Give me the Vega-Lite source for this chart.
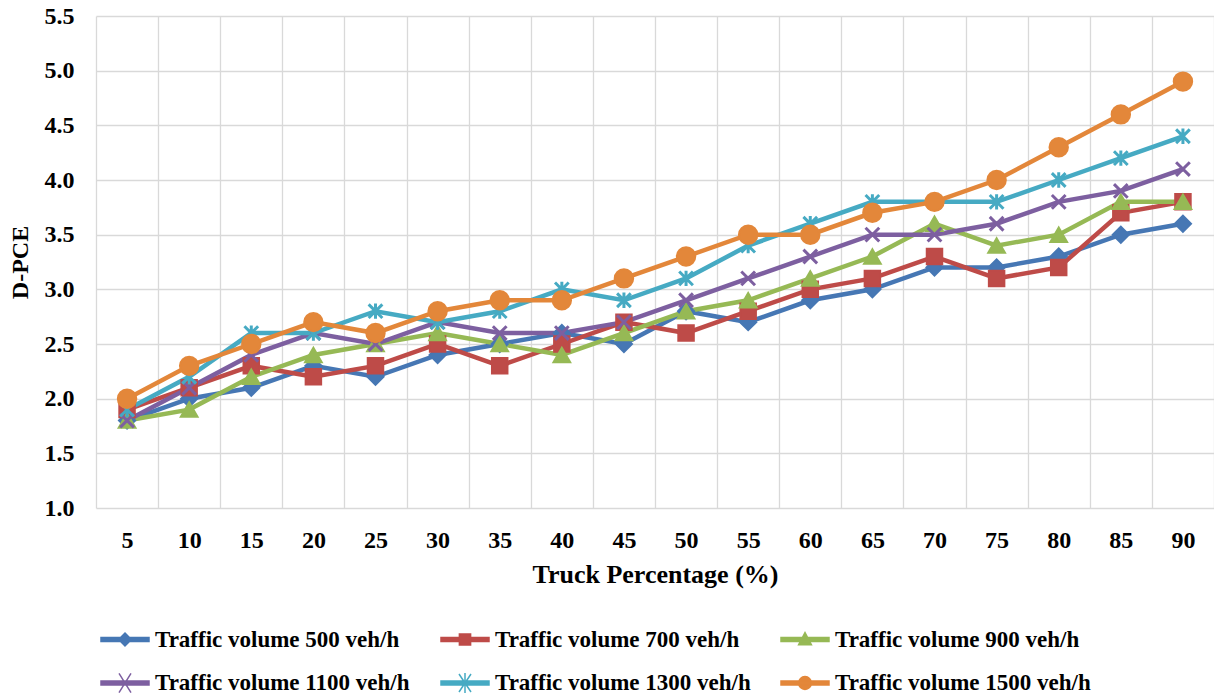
{
  "$schema": "https://vega.github.io/schema/vega-lite/v6.json",
  "width": 1118,
  "height": 492,
  "autosize": {"type": "none"},
  "padding": {"left": 96, "top": 16, "right": 0, "bottom": 190},
  "background": "white",
  "config": {"view": {"stroke": null}, "font": "Liberation Serif"},
  "data": {
    "values": [
      {"pct": 5, "Traffic volume 500 veh/h": 1.8, "Traffic volume 700 veh/h": 1.9, "Traffic volume 900 veh/h": 1.8, "Traffic volume 1100 veh/h": 1.8, "Traffic volume 1300 veh/h": 1.9, "Traffic volume 1500 veh/h": 2.0},
      {"pct": 10, "Traffic volume 500 veh/h": 2.0, "Traffic volume 700 veh/h": 2.1, "Traffic volume 900 veh/h": 1.9, "Traffic volume 1100 veh/h": 2.1, "Traffic volume 1300 veh/h": 2.2, "Traffic volume 1500 veh/h": 2.3},
      {"pct": 15, "Traffic volume 500 veh/h": 2.1, "Traffic volume 700 veh/h": 2.3, "Traffic volume 900 veh/h": 2.2, "Traffic volume 1100 veh/h": 2.4, "Traffic volume 1300 veh/h": 2.6, "Traffic volume 1500 veh/h": 2.5},
      {"pct": 20, "Traffic volume 500 veh/h": 2.3, "Traffic volume 700 veh/h": 2.2, "Traffic volume 900 veh/h": 2.4, "Traffic volume 1100 veh/h": 2.6, "Traffic volume 1300 veh/h": 2.6, "Traffic volume 1500 veh/h": 2.7},
      {"pct": 25, "Traffic volume 500 veh/h": 2.2, "Traffic volume 700 veh/h": 2.3, "Traffic volume 900 veh/h": 2.5, "Traffic volume 1100 veh/h": 2.5, "Traffic volume 1300 veh/h": 2.8, "Traffic volume 1500 veh/h": 2.6},
      {"pct": 30, "Traffic volume 500 veh/h": 2.4, "Traffic volume 700 veh/h": 2.5, "Traffic volume 900 veh/h": 2.6, "Traffic volume 1100 veh/h": 2.7, "Traffic volume 1300 veh/h": 2.7, "Traffic volume 1500 veh/h": 2.8},
      {"pct": 35, "Traffic volume 500 veh/h": 2.5, "Traffic volume 700 veh/h": 2.3, "Traffic volume 900 veh/h": 2.5, "Traffic volume 1100 veh/h": 2.6, "Traffic volume 1300 veh/h": 2.8, "Traffic volume 1500 veh/h": 2.9},
      {"pct": 40, "Traffic volume 500 veh/h": 2.6, "Traffic volume 700 veh/h": 2.5, "Traffic volume 900 veh/h": 2.4, "Traffic volume 1100 veh/h": 2.6, "Traffic volume 1300 veh/h": 3.0, "Traffic volume 1500 veh/h": 2.9},
      {"pct": 45, "Traffic volume 500 veh/h": 2.5, "Traffic volume 700 veh/h": 2.7, "Traffic volume 900 veh/h": 2.6, "Traffic volume 1100 veh/h": 2.7, "Traffic volume 1300 veh/h": 2.9, "Traffic volume 1500 veh/h": 3.1},
      {"pct": 50, "Traffic volume 500 veh/h": 2.8, "Traffic volume 700 veh/h": 2.6, "Traffic volume 900 veh/h": 2.8, "Traffic volume 1100 veh/h": 2.9, "Traffic volume 1300 veh/h": 3.1, "Traffic volume 1500 veh/h": 3.3},
      {"pct": 55, "Traffic volume 500 veh/h": 2.7, "Traffic volume 700 veh/h": 2.8, "Traffic volume 900 veh/h": 2.9, "Traffic volume 1100 veh/h": 3.1, "Traffic volume 1300 veh/h": 3.4, "Traffic volume 1500 veh/h": 3.5},
      {"pct": 60, "Traffic volume 500 veh/h": 2.9, "Traffic volume 700 veh/h": 3.0, "Traffic volume 900 veh/h": 3.1, "Traffic volume 1100 veh/h": 3.3, "Traffic volume 1300 veh/h": 3.6, "Traffic volume 1500 veh/h": 3.5},
      {"pct": 65, "Traffic volume 500 veh/h": 3.0, "Traffic volume 700 veh/h": 3.1, "Traffic volume 900 veh/h": 3.3, "Traffic volume 1100 veh/h": 3.5, "Traffic volume 1300 veh/h": 3.8, "Traffic volume 1500 veh/h": 3.7},
      {"pct": 70, "Traffic volume 500 veh/h": 3.2, "Traffic volume 700 veh/h": 3.3, "Traffic volume 900 veh/h": 3.6, "Traffic volume 1100 veh/h": 3.5, "Traffic volume 1300 veh/h": 3.8, "Traffic volume 1500 veh/h": 3.8},
      {"pct": 75, "Traffic volume 500 veh/h": 3.2, "Traffic volume 700 veh/h": 3.1, "Traffic volume 900 veh/h": 3.4, "Traffic volume 1100 veh/h": 3.6, "Traffic volume 1300 veh/h": 3.8, "Traffic volume 1500 veh/h": 4.0},
      {"pct": 80, "Traffic volume 500 veh/h": 3.3, "Traffic volume 700 veh/h": 3.2, "Traffic volume 900 veh/h": 3.5, "Traffic volume 1100 veh/h": 3.8, "Traffic volume 1300 veh/h": 4.0, "Traffic volume 1500 veh/h": 4.3},
      {"pct": 85, "Traffic volume 500 veh/h": 3.5, "Traffic volume 700 veh/h": 3.7, "Traffic volume 900 veh/h": 3.8, "Traffic volume 1100 veh/h": 3.9, "Traffic volume 1300 veh/h": 4.2, "Traffic volume 1500 veh/h": 4.6},
      {"pct": 90, "Traffic volume 500 veh/h": 3.6, "Traffic volume 700 veh/h": 3.8, "Traffic volume 900 veh/h": 3.8, "Traffic volume 1100 veh/h": 4.1, "Traffic volume 1300 veh/h": 4.4, "Traffic volume 1500 veh/h": 4.9}
    ]
  },
  "transform": [
    {"fold": ["Traffic volume 500 veh/h", "Traffic volume 700 veh/h", "Traffic volume 900 veh/h", "Traffic volume 1100 veh/h", "Traffic volume 1300 veh/h", "Traffic volume 1500 veh/h"], "as": ["series", "dpce"]}
  ],
  "encoding": {
    "x": {
      "field": "pct", "type": "ordinal", "bandPosition": 0.5,
      "scale": {"type": "band", "paddingInner": 0, "paddingOuter": 0},
      "axis": {
        "title": "Truck Percentage (%)", "labelAngle": 0, "labelFont": "Liberation Serif", "labelFontSize": 24, "labelFontWeight": "bold", "labelColor": "black", "labelPadding": 20,
        "ticks": false, "tickSize": 0, "domain": false, "grid": true, "gridColor": "#D9D9D9", "gridWidth": 1.3, "tickBand": "extent",
        "titleFont": "Liberation Serif", "titleFontSize": 26, "titleFontWeight": "bold", "titleColor": "black", "titlePadding": 9
      }
    },
    "y": {
      "field": "dpce", "type": "quantitative",
      "scale": {"domain": [1, 5.5], "nice": false, "zero": false},
      "axis": {
        "title": "D-PCE", "values": [1, 1.5, 2, 2.5, 3, 3.5, 4, 4.5, 5, 5.5], "format": ".1f",
        "labelFont": "Liberation Serif", "labelFontSize": 24, "labelFontWeight": "bold", "labelColor": "black", "labelPadding": 22,
        "ticks": false, "tickSize": 0, "domain": false, "grid": true, "gridColor": "#D9D9D9", "gridWidth": 1.3,
        "titleFont": "Liberation Serif", "titleFontSize": 24, "titleFontWeight": "bold", "titleColor": "black", "titlePadding": 12
      }
    },
    "color": {
      "field": "series", "type": "nominal",
      "scale": {
        "domain": ["Traffic volume 500 veh/h", "Traffic volume 700 veh/h", "Traffic volume 900 veh/h", "Traffic volume 1100 veh/h", "Traffic volume 1300 veh/h", "Traffic volume 1500 veh/h"],
        "range": ["#4677B4", "#BE4B48", "#96B955", "#7D5FA0", "#46AAC3", "#E3873A"]
      },
      "legend": {
        "orient": "none", "legendX": 8, "legendY": 602, "direction": "horizontal", "columns": 3, "title": null,
        "symbolSize": 1600, "symbolType": "stroke", "labelFont": "Liberation Serif", "labelFontWeight": "bold", "labelFontSize": 23, "labelColor": "black",
        "labelOffset": 9, "columnPadding": 27, "rowPadding": 10, "gridAlign": "all", "labelLimit": 400, "padding": 0,
        "encode": {
          "symbols": {
            "update": {
              "shape": {"signal": "['M-1.2,-0.1L1.2,-0.1L1.2,0.1L-1.2,0.1ZM0,-0.32L0.32,0L0,0.32L-0.32,0Z','M-1.2,-0.1L1.2,-0.1L1.2,0.1L-1.2,0.1ZM-0.28,-0.28L0.28,-0.28L0.28,0.28L-0.28,0.28Z','M-1.2,-0.1L1.2,-0.1L1.2,0.1L-1.2,0.1ZM0,-0.34L0.32,0.26L-0.32,0.26Z','M-1.2,-0.1L1.2,-0.1L1.2,0.1L-1.2,0.1ZM-0.3,-0.48L0.3,0.48M-0.3,0.48L0.3,-0.48','M-1.2,-0.1L1.2,-0.1L1.2,0.1L-1.2,0.1ZM-0.3,-0.45L0.3,0.45M-0.3,0.45L0.3,-0.45M0,-0.5L0,0.5','M-1.2,-0.1L1.2,-0.1L1.2,0.1L-1.2,0.1ZM-0.32,0A0.32,0.32,0,1,1,0.32,0A0.32,0.32,0,1,1,-0.32,0Z'][indexof(['Traffic volume 500 veh/h','Traffic volume 700 veh/h','Traffic volume 900 veh/h','Traffic volume 1100 veh/h','Traffic volume 1300 veh/h','Traffic volume 1500 veh/h'], datum.value)]"},
              "fill": {"scale": "color", "field": "value"},
              "stroke": {"scale": "color", "field": "value"},
              "strokeWidth": {"value": 1.5},
              "opacity": {"value": 1},
              "fillOpacity": {"value": 1},
              "strokeOpacity": {"value": 1}
            }
          }
        }
      }
    }
  },
  "layer": [
    {"mark": {"type": "line", "strokeWidth": 4.5}, "encoding": {}},
    {
      "transform": [{"filter": {"field": "series", "equal": "Traffic volume 500 veh/h"}}],
      "mark": {"type": "point", "shape": "diamond", "filled": true, "size": 260, "stroke": "#4677B4", "strokeWidth": 2, "opacity": 1},
      "encoding": {}
    },
    {
      "transform": [{"filter": {"field": "series", "equal": "Traffic volume 700 veh/h"}}],
      "mark": {"type": "point", "shape": "square", "filled": true, "size": 240, "stroke": "#BE4B48", "strokeWidth": 2, "opacity": 1},
      "encoding": {}
    },
    {
      "transform": [{"filter": {"field": "series", "equal": "Traffic volume 900 veh/h"}}],
      "mark": {"type": "point", "shape": "triangle-up", "filled": true, "size": 280, "stroke": "#96B955", "strokeWidth": 2, "opacity": 1},
      "encoding": {}
    },
    {
      "transform": [{"filter": {"field": "series", "equal": "Traffic volume 1100 veh/h"}}],
      "mark": {"type": "point", "shape": "M-0.85,-0.85L0.85,0.85M-0.85,0.85L0.85,-0.85", "filled": false, "size": 260, "strokeWidth": 3, "opacity": 1},
      "encoding": {}
    },
    {
      "transform": [{"filter": {"field": "series", "equal": "Traffic volume 1300 veh/h"}}],
      "mark": {"type": "point", "shape": "M-0.85,-0.85L0.85,0.85M-0.85,0.85L0.85,-0.85M0,-0.95L0,0.95", "filled": false, "size": 260, "strokeWidth": 3, "opacity": 1},
      "encoding": {}
    },
    {
      "transform": [{"filter": {"field": "series", "equal": "Traffic volume 1500 veh/h"}}],
      "mark": {"type": "point", "shape": "circle", "filled": true, "size": 340, "stroke": "#E3873A", "strokeWidth": 2, "opacity": 1},
      "encoding": {}
    }
  ]
}
